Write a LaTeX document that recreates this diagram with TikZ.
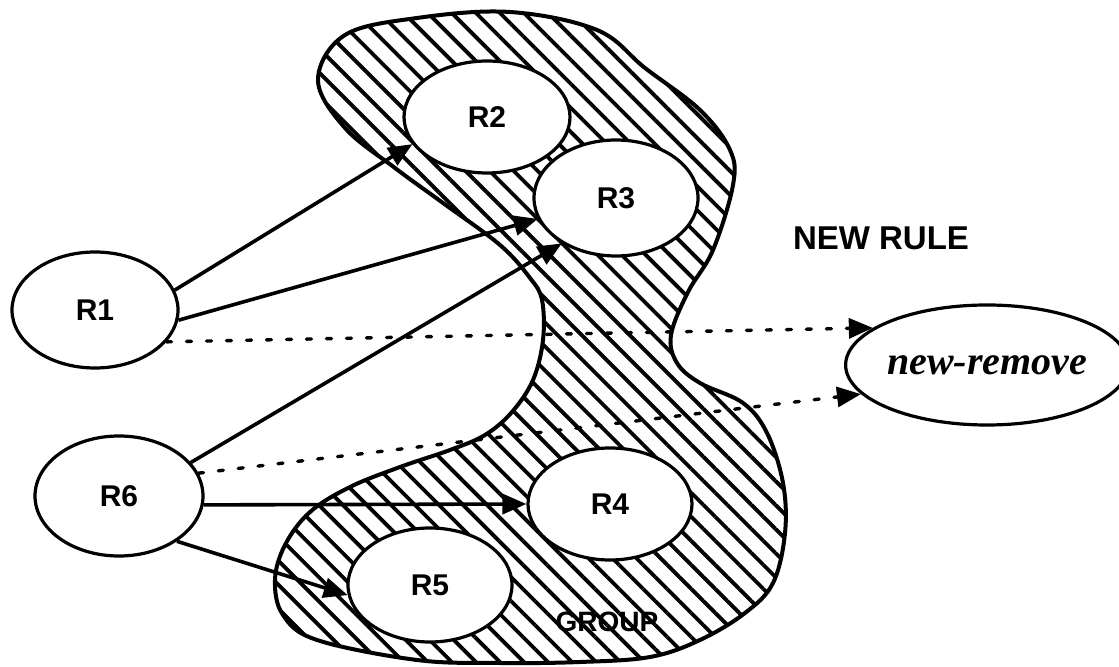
\documentclass[tikz,border=0pt]{standalone}
\usepackage{fontspec}
\setmainfont{Liberation Sans}
\newfontfamily\remfont{Liberation Serif}
\usetikzlibrary{arrows.meta,shapes,patterns.meta}

\begin{document}
\begin{tikzpicture}[x=0.5pt, y=-0.5pt,
      rule/.style={ellipse, draw, line width=1.6pt, fill=white, inner sep=0pt,
          minimum width=83pt, minimum height=58pt,
          font=\fontsize{15}{17}\selectfont\bfseries},
      link/.style={line width=1.8pt, -{Triangle[length=12pt,width=10pt]}},
      dotlink/.style={link, line width=1.7pt, dash pattern=on 2.5pt off 7.5pt, line cap=round},
      groupblob/.style={line width=2pt, pattern={Lines[angle=-45,distance=8.5pt,line width=1.9pt]}},
      caption/.style={font=\fontsize{16.5}{19}\selectfont\bfseries}]
    \useasboundingbox (0,0) rectangle (1119,667);

    % hatched group
    \draw[groupblob] plot[smooth cycle, tension=0.6] coordinates {
        (510,12) (597,30) (645,68) (700,110) (730,150) (733,185) (713,250)
        (688,292) (671,335) (677,363) (700,383) (743,403) (767,433) (783,483)
        (785,533) (773,583) (745,613) (700,640) (650,657) (580,662) (500,663)
        (417,660) (317,640) (283,615) (275,580) (285,545) (310,512) (350,487)
        (400,467) (450,450) (485,435) (512,412) (533,380) (543,340) (542,300)
        (530,278) (500,245) (443,203) (395,168) (345,128) (318,80) (345,35) (417,18)};

    % rules
    \node[rule] (R1) at (95,310) {R1};
    \node[rule, minimum height=56pt] (R2) at (487,117) {R2};
    \node[rule, minimum width=82pt] (R3) at (616,198) {R3};
    \node[rule, minimum width=82pt, minimum height=56pt] (R4) at (610,504) {R4};
    \node[rule, minimum width=82pt, minimum height=57pt] (R5) at (430,585) {R5};
    \node[rule, minimum width=84pt, minimum height=60pt] (R6) at (119,496) {R6};
    \node[rule, minimum width=132pt, minimum height=60pt,
          font=\fontsize{20}{22}\selectfont\remfont\bfseries\itshape] (newremove) at (987,365) {new-remove};

    \node[caption] (newrule) at (881,238) {NEW RULE};
    \node[caption, font=\fontsize{14}{16}\selectfont\bfseries] (grouplabel) at (607,622) {GROUP};

    % links
    \draw[link] (R1.14) -- (R2.200);
    \draw[link] (R1.-7) -- (R3.195);
    \draw[link] (R6.25) -- (R3.220);
    \draw[link] (R6.-6) -- (R4.west);
    \draw[link] (R6.-38) -- (R5.187);
    \draw[dotlink] (R1.-24) -- (newremove.162);
    \draw[dotlink] (R6.16) -- (newremove.193);
\end{tikzpicture}
\end{document}
